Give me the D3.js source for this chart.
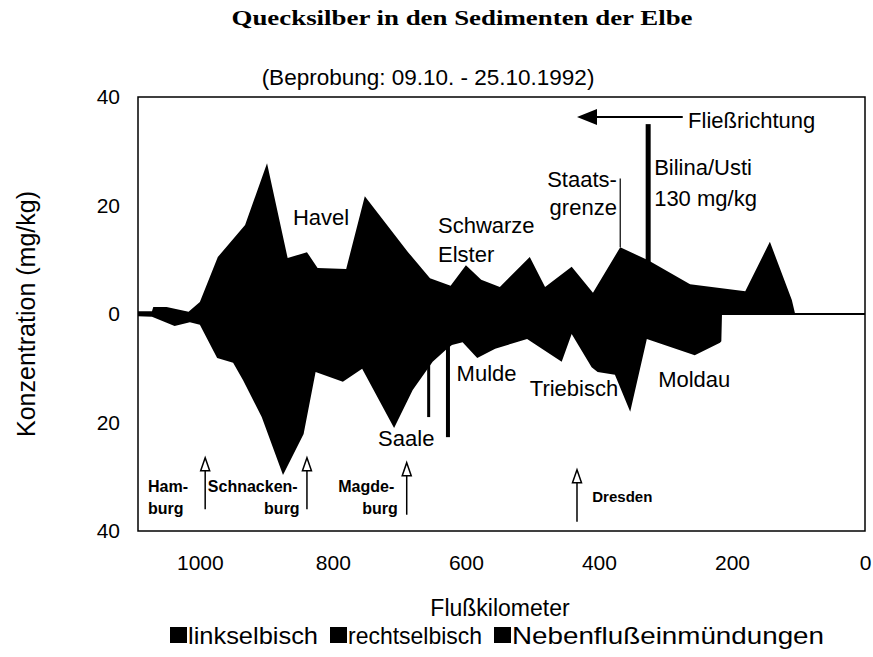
<!DOCTYPE html>
<meta charset="utf-8">
<style>
  body { margin: 0; background: #fff; }
  text { font-family: "Liberation Sans", Arial, sans-serif; fill: #000; }
  .title { font-family: "Liberation Serif", "Times New Roman", serif; font-weight: bold; }
  .axis path, .axis line { display: none; }
  .axis text { font-size: 21px; font-family: "Liberation Sans", Arial, sans-serif; }
</style>
<body>
<div id="chart"></div>
<script src="https://d3js.org/d3.v7.min.js"></script>
<script>

// Hg-Gehalt der Sedimente, linkes Ufer (oben) und rechtes Ufer (unten), mg/kg
const kmLinks = [1093, 1072, 1070, 1050, 1017, 1000, 973, 932, 899, 868, 839, 823, 780, 752, 687, 654, 623, 600, 577, 549, 504, 481, 441, 409, 368, 326, 263, 180, 143, 110, 105];
const hgLinks = [0.5, 0.5, 1.3, 1.3, 0.4, 2.2, 10.5, 16.4, 27.8, 10.3, 11.4, 8.5, 8.3, 21.7, 11.4, 6.6, 5.2, 9.0, 6.3, 5.0, 10.5, 5.0, 8.7, 3.9, 12.3, 9.9, 5.5, 4.2, 13.3, 2.6, 0];

const kmRechts = [1093, 1072, 1060, 1038, 1015, 1000, 974, 950, 935, 907, 875, 844, 826, 785, 756, 708, 680, 650, 630, 621, 605, 583, 556, 508, 456, 441, 411, 402, 376, 353, 328, 256, 218, 216, 215];
const hgRechts = [0.4, 0.5, 1.1, 2.2, 1.5, 2.0, 8.1, 9.0, 12.2, 19.0, 29.7, 22.1, 10.7, 12.5, 10.1, 21.0, 14.0, 8.8, 6.6, 5.7, 5.2, 8.1, 6.4, 4.6, 8.8, 3.7, 9.8, 10.7, 11.2, 18.0, 4.6, 7.6, 5.3, 5.0, 0];

// Nebenflusseinmuendungen (Bilina/Usti abgeschnitten, eigentlich 130 mg/kg)
const nebenKm = [656, 627, 326];
const nebenHg = [-19.0, -22.7, 35];
const nebenBreite = [3, 4, 5];

const yTicks = [40, 20, 0, -20, -40];
const xTicks = [1000, 800, 600, 400, 200, 0];

// Orte unten mit Pfeilen
const ortKm = [992, 839, 689, 433];
const ortPfeil = [[-26.5, -36], [-26.5, -36], [-27.4, -37], [-28.7, -38.3]];

const legende = ["linkselbisch", "rechtselbisch", "Nebenflußeinmündungen"];
const legendeBreite = [130, 134, 312];

let width = 873, height = 657;

let svg = d3.select("#chart").append("svg")
            .attr("width", width)
            .attr("height", height);

svg.append("rect").attr("width", width).attr("height", height).attr("fill", "#fff");

let x = d3.scaleLinear().domain([1093, 0]).range([138, 865]);
let y = d3.scaleLinear().domain([40, -40]).range([97, 531]);

let links = kmLinks.map((k, i) => ({km: k, v: hgLinks[i]}));
let rechts = kmRechts.map((k, i) => ({km: k, v: -hgRechts[i]}));

let area = d3.area()
             .x(d => x(d.km))
             .y0(y(0))
             .y1(d => y(d.v));

svg.append("path").datum(links).attr("d", area).attr("fill", "#000");
svg.append("path").datum(rechts).attr("d", area).attr("fill", "#000");

// Nulllinie
svg.append("line")
   .attr("x1", x(1093)).attr("x2", x(0))
   .attr("y1", y(0)).attr("y2", y(0))
   .attr("stroke", "#000").attr("stroke-width", 1.8);

// Nebenfluesse als Balken
svg.selectAll(".neben")
   .data(nebenKm)
   .enter().append("rect")
   .attr("class", "neben")
   .attr("x", (d, i) => x(d) - nebenBreite[i] / 2)
   .attr("width", (d, i) => nebenBreite[i])
   .attr("y", (d, i) => y(Math.max(0, nebenHg[i])))
   .attr("height", (d, i) => Math.abs(y(nebenHg[i]) - y(0)))
   .attr("fill", "#000");

// Rahmen
svg.append("rect")
   .attr("x", x(1093)).attr("y", y(40))
   .attr("width", x(0) - x(1093)).attr("height", y(-40) - y(40))
   .attr("fill", "none").attr("stroke", "#000").attr("stroke-width", 1.5);

// Achsen
svg.append("g")
   .attr("class", "axis")
   .attr("transform", "translate(" + x(1093) + ",0)")
   .call(d3.axisLeft(y).tickValues(yTicks).tickFormat(d => Math.abs(d)).tickSize(0).tickPadding(18));

svg.append("g")
   .attr("class", "axis")
   .attr("transform", "translate(0," + y(-40) + ")")
   .call(d3.axisBottom(x).tickValues(xTicks).tickFormat(d3.format("d")).tickSize(0).tickPadding(24));

// Titel
svg.append("text").attr("class", "title")
   .attr("x", 462).attr("y", 25)
   .attr("text-anchor", "middle")
   .attr("font-size", 21)
   .attr("textLength", 461).attr("lengthAdjust", "spacingAndGlyphs")
   .text("Quecksilber in den Sedimenten der Elbe");

svg.append("text")
   .attr("x", 428).attr("y", 85)
   .attr("text-anchor", "middle")
   .attr("font-size", 22.5)
   .text("(Beprobung: 09.10. - 25.10.1992)");

svg.append("text")
   .attr("transform", "translate(35,314) rotate(-90)")
   .attr("text-anchor", "middle")
   .attr("font-size", 25)
   .text("Konzentration (mg/kg)");

svg.append("text")
   .attr("x", 500).attr("y", 616)
   .attr("text-anchor", "middle")
   .attr("font-size", 23)
   .text("Flußkilometer");

// Beschriftungen im Diagramm
function label(txt, km, v, anchor, size, bold) {
  svg.append("text")
     .attr("x", x(km)).attr("y", y(v))
     .attr("text-anchor", anchor || "start")
     .attr("font-size", size || 22)
     .attr("font-weight", bold ? "bold" : "normal")
     .text(txt);
}

label("Havel", 860, 16.4);
label("Schwarze", 642, 14.9);
label("Elster", 642, 9.6);
label("Saale", 732, -24.3);
label("Mulde", 614, -12.3);
label("Triebisch", 504, -15.1);
label("Moldau", 311, -13.4);
label("Staats-", 373, 23.4, "end");
label("grenze", 373, 18.2, "end");
label("Bilina/Usti", 317, 25.6);
label("130 mg/kg", 317, 19.9);
label("Fließrichtung", 266, 34.3);

label("Ham-", 1078, -32.8, "start", 16, true);
label("burg", 1078, -36.8, "start", 16, true);
label("Schnacken-", 988, -32.8, "start", 16, true);
label("burg", 850, -36.8, "end", 16, true);
label("Magde-", 792, -32.8, "start", 16, true);
label("burg", 756, -36.8, "start", 16, true);
label("Dresden", 410, -34.6, "start", 15, true);

// Staatsgrenze
svg.append("line")
   .attr("x1", x(368)).attr("x2", x(368))
   .attr("y1", y(12.3)).attr("y2", y(25))
   .attr("stroke", "#000").attr("stroke-width", 1.2);

// Fliessrichtung
svg.append("line")
   .attr("x1", x(433) + 18).attr("x2", x(274))
   .attr("y1", y(36.3)).attr("y2", y(36.3))
   .attr("stroke", "#000").attr("stroke-width", 2);
svg.append("path")
   .attr("d", "M" + x(433) + "," + y(36.3) + "l20,-8v16z")
   .attr("fill", "#000");

// Pfeile fuer Orte
ortKm.forEach((k, i) => {
  let top = y(ortPfeil[i][0]);
  svg.append("line")
     .attr("x1", x(k)).attr("x2", x(k))
     .attr("y1", top + 13).attr("y2", y(ortPfeil[i][1]))
     .attr("stroke", "#000").attr("stroke-width", 1.5);
  svg.append("path")
     .attr("d", "M" + x(k) + "," + top + "l4.5,13h-9z")
     .attr("fill", "#fff").attr("stroke", "#000").attr("stroke-width", 1.5);
});

// Legende
let leg = svg.append("g").attr("transform", "translate(0,644)");
let lx = 170;
legende.forEach((name, i) => {
  leg.append("rect").attr("x", lx).attr("y", -17).attr("width", 17).attr("height", 16).attr("fill", "#000");
  leg.append("text").attr("x", lx + 18).attr("y", 0).attr("font-size", 24)
     .attr("textLength", legendeBreite[i]).attr("lengthAdjust", "spacingAndGlyphs")
     .text(name);
  lx += 18 + legendeBreite[i] + 12;
});

</script>
</body>
</html>
